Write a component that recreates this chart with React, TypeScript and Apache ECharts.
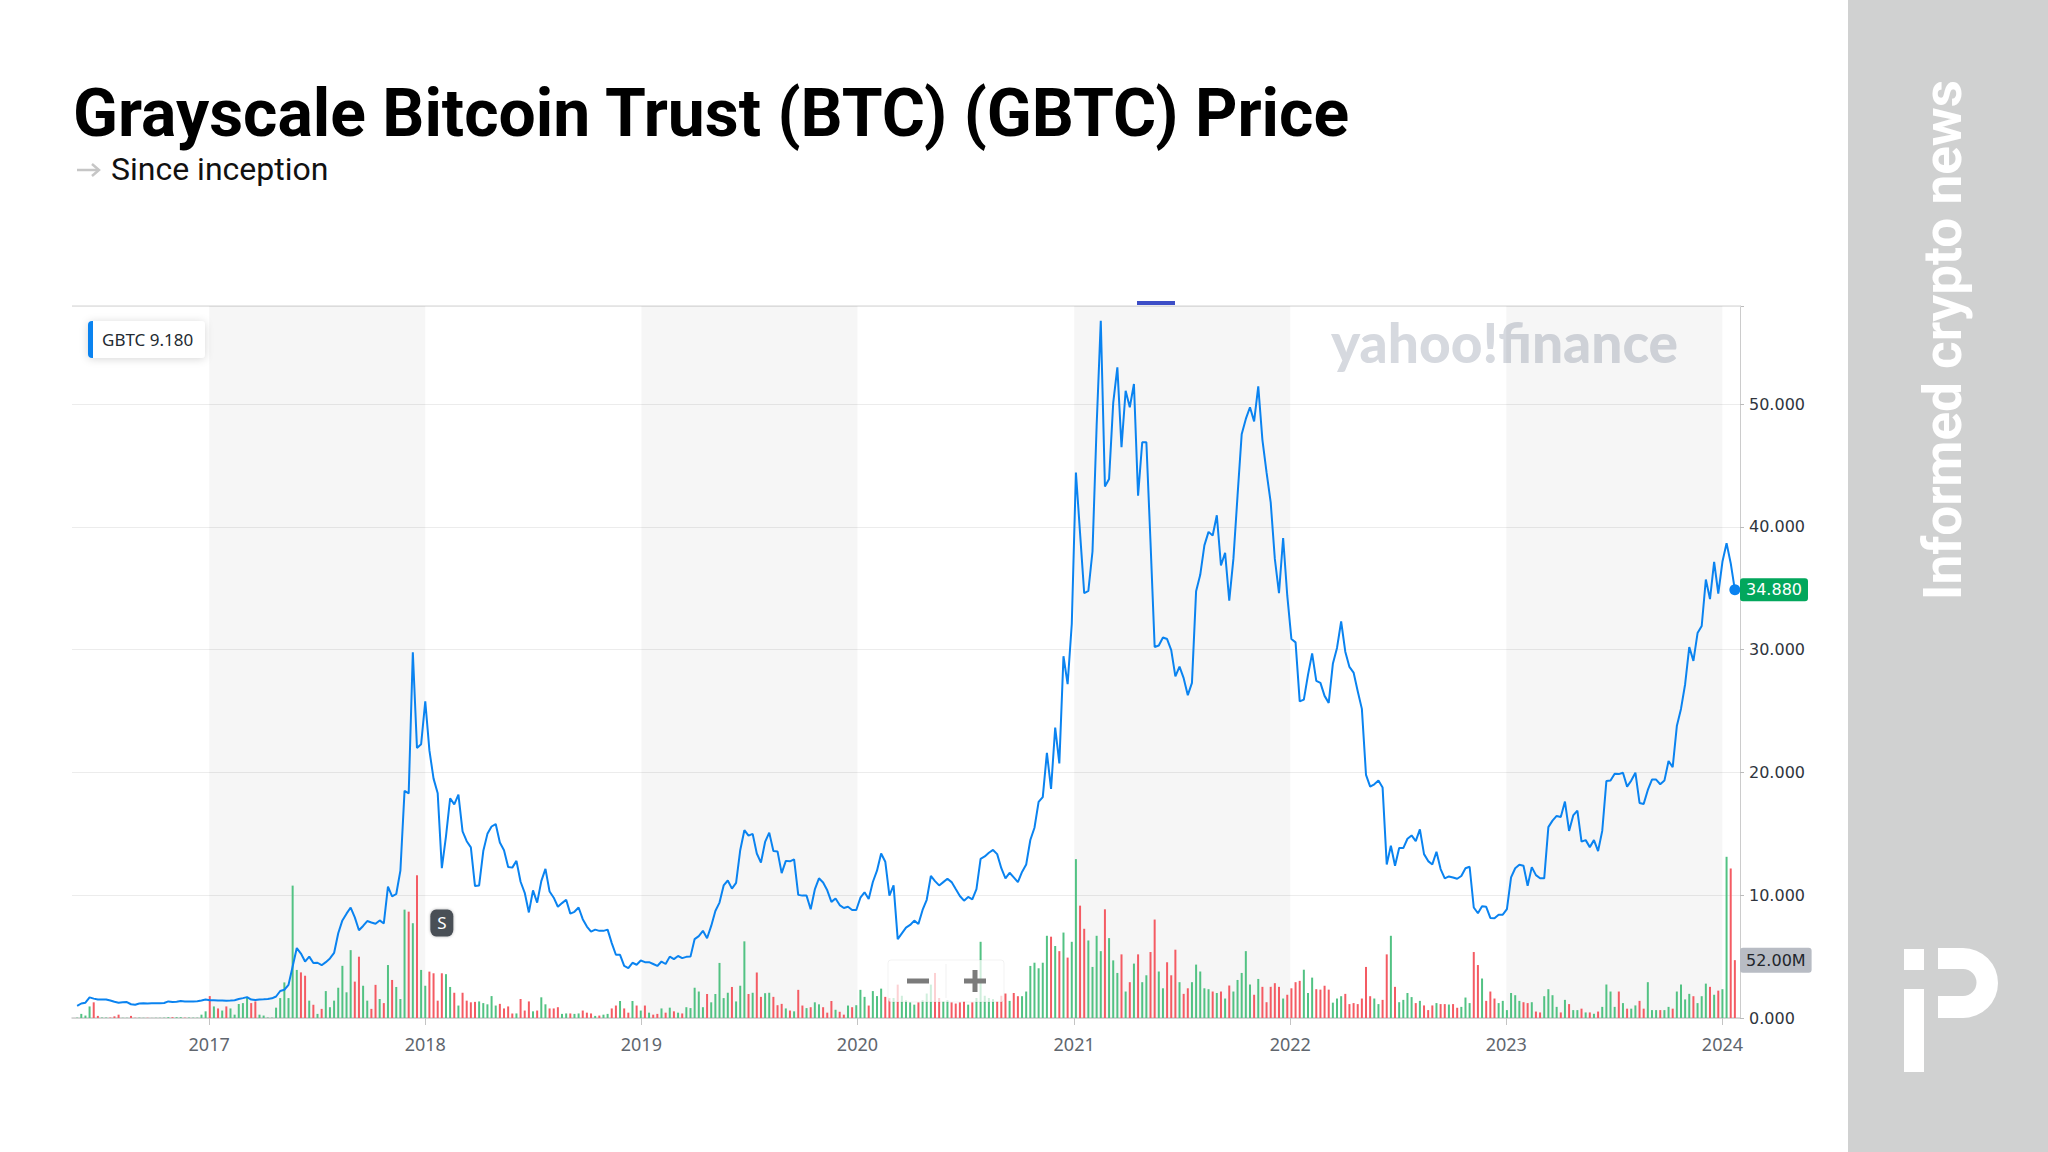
import React, { useEffect, useRef } from "react";
import * as echarts from "echarts";

// ---------- data (weekly, Mondays from 2016-05-23) ----------
const price2016 = [0.98, 1.18, 1.25, 1.68, 1.58, 1.5, 1.5, 1.5, 1.42, 1.32, 1.25, 1.28, 1.3, 1.12, 1.08, 1.18, 1.2, 1.18, 1.2, 1.2, 1.2, 1.22, 1.35, 1.3, 1.33, 1.38, 1.35, 1.35, 1.35, 1.36, 1.42, 1.5];
const price2017 = [1.45, 1.45, 1.42, 1.42, 1.4, 1.42, 1.45, 1.55, 1.62, 1.7, 1.5, 1.46, 1.5, 1.52, 1.55, 1.6, 1.75, 2.2, 2.3, 2.7, 4.2, 5.7, 5.25, 4.6, 5.0, 4.48, 4.5, 4.3, 4.55, 4.85, 5.3, 6.9, 7.95, 8.5, 9.0, 8.2, 7.15, 7.5, 7.9, 7.78, 7.68, 7.95, 7.7, 10.7, 9.9, 10.1, 12.0, 18.5, 18.3, 29.8, 22.0, 22.3];
const price2018 = [25.8, 21.8, 19.5, 18.3, 12.2, 14.8, 17.9, 17.4, 18.2, 15.2, 14.4, 13.9, 10.75, 10.8, 13.6, 15.0, 15.6, 15.8, 14.3, 13.67, 12.3, 12.25, 12.8, 11.1, 10.2, 8.6, 10.4, 9.4, 11.15, 12.15, 10.3, 9.8, 9.06, 9.36, 9.63, 8.5, 8.65, 9.0, 8.05, 7.45, 7.04, 7.2, 7.1, 7.1, 7.2, 6.1, 5.15, 5.15, 4.24, 4.07, 4.5, 4.34, 4.68];
const price2019 = [4.55, 4.55, 4.4, 4.24, 4.6, 4.4, 5.0, 4.8, 5.05, 4.88, 4.98, 5.0, 6.43, 6.67, 7.1, 6.5, 7.5, 8.72, 9.4, 10.8, 11.2, 10.54, 11.0, 13.67, 15.3, 14.85, 15.0, 13.4, 12.66, 14.34, 15.1, 13.6, 13.57, 11.8, 12.8, 12.76, 12.93, 10.03, 9.97, 9.97, 8.86, 10.47, 11.38, 11.04, 10.4, 9.46, 9.73, 9.2, 8.96, 9.06, 8.8, 8.8];
const price2020 = [9.8, 10.24, 9.7, 11.08, 12.0, 13.4, 12.73, 9.97, 10.8, 6.43, 6.9, 7.36, 7.58, 7.93, 7.66, 8.8, 9.63, 11.57, 11.15, 10.8, 11.07, 11.34, 11.07, 10.5, 9.94, 9.56, 9.86, 9.67, 10.5, 12.97, 13.16, 13.46, 13.69, 13.35, 12.2, 11.38, 11.83, 11.45, 11.07, 11.9, 12.5, 14.5, 15.5, 17.6, 18.0, 21.6, 18.66, 23.66, 20.74, 29.47, 27.2, 32.1];
const price2021 = [44.44, 39.5, 34.6, 34.8, 38.0, 48.24, 56.8, 43.3, 43.9, 50.1, 53.0, 46.5, 51.1, 49.75, 51.65, 42.55, 46.9, 46.9, 38.76, 30.22, 30.34, 31.0, 30.87, 29.96, 27.83, 28.63, 27.68, 26.3, 27.3, 34.77, 36.1, 38.5, 39.6, 39.3, 40.95, 36.86, 37.9, 34.0, 37.4, 42.55, 47.55, 48.8, 49.75, 48.6, 51.46, 47.1, 44.44, 42.0, 37.4, 34.6, 39.1, 34.4];
const price2022 = [30.87, 30.6, 25.79, 25.94, 27.95, 29.7, 27.46, 27.3, 26.24, 25.67, 28.85, 30.15, 32.3, 29.84, 28.6, 28.14, 26.62, 25.18, 19.8, 18.85, 19.04, 19.34, 18.77, 12.5, 14.03, 12.4, 13.84, 13.84, 14.6, 14.87, 14.41, 15.36, 13.35, 12.78, 12.51, 13.54, 12.13, 11.38, 11.53, 11.45, 11.34, 11.57, 12.2, 12.32, 9.0, 8.53, 9.1, 9.06, 8.15, 8.12, 8.42, 8.42];
const price2023 = [8.87, 11.45, 12.2, 12.48, 12.4, 10.77, 12.29, 11.64, 11.38, 11.38, 15.55, 16.08, 16.46, 16.38, 17.63, 15.24, 16.5, 16.9, 14.37, 14.49, 13.92, 14.49, 13.6, 15.24, 19.3, 19.34, 19.9, 19.87, 19.98, 18.85, 19.34, 19.98, 17.52, 17.44, 18.58, 19.42, 19.42, 19.04, 19.34, 20.93, 20.44, 23.78, 25.18, 27.19, 30.22, 29.09, 31.36, 31.93, 35.72, 34.13, 37.16, 34.58];
const price2024 = [37.16, 38.68, 37.05, 34.88];

// weekly volume, millions of shares
const vol2016 = [0.3, 3.7, 2.2, 10.4, 14.1, 1.9, 0.4, 0.4, 0.4, 1.5, 3.0, 0.2, 0.2, 1.9, 0.2, 0.3, 0.2, 0.2, 0.1, 0.2, 0.2, 0.3, 0.7, 0.7, 0.7, 0.7, 0.3, 0.4, 0.3, 0.3, 3.0, 6.0];
const vol2017 = [19.7, 10.4, 8.6, 6.7, 10.4, 8.6, 3.0, 12.6, 13.4, 18.6, 13.4, 14.9, 3.0, 2.2, 0.4, 0.3, 9.3, 17.9, 32.0, 17.9, 119, 43.2, 41.0, 38.0, 15.6, 11.9, 3.7, 8.2, 24.2, 9.7, 15.6, 27.2, 46.9, 23.1, 61.0, 32.7, 55.1, 29.0, 15.6, 8.2, 29.8, 17.1, 13.4, 47.6, 34.2, 27.9, 17.1, 97.4, 95.6, 85.2, 128.3, 43.2];
const vol2018 = [29.0, 41.7, 40.2, 15.6, 40.2, 39.4, 27.9, 22.7, 11.2, 22.7, 15.6, 14.1, 14.5, 14.9, 13.4, 12.3, 19.7, 11.2, 12.7, 8.6, 10.4, 4.1, 4.1, 17.1, 6.7, 14.9, 6.0, 6.7, 18.6, 12.3, 8.6, 8.6, 9.7, 3.7, 4.1, 4.1, 3.7, 4.1, 6.7, 4.8, 4.1, 1.9, 2.2, 3.0, 3.7, 8.6, 11.2, 15.3, 8.6, 4.8, 15.3, 11.2, 6.7];
const vol2019 = [11.2, 4.8, 3.0, 3.7, 8.6, 4.8, 9.3, 6.0, 4.8, 4.1, 9.7, 8.9, 27.2, 23.8, 9.7, 21.6, 14.1, 21.6, 49.5, 17.9, 22.7, 27.9, 14.9, 29.0, 68.9, 21.6, 22.7, 40.9, 19.0, 22.3, 22.7, 19.0, 11.5, 12.7, 8.6, 6.7, 6.0, 25.3, 11.2, 8.9, 9.7, 14.1, 12.3, 9.7, 4.8, 15.3, 7.4, 5.6, 3.0, 11.2, 9.7, 11.5];
const vol2020 = [25.3, 19.0, 11.2, 24.2, 19.7, 26.4, 19.0, 17.9, 18, 30, 20, 16, 14, 12, 14, 16, 22, 30, 40.5, 18, 15, 16, 14, 13, 14, 15, 12, 14, 18, 68.5, 20, 18, 17, 15, 20, 22, 15.4, 22.5, 19.6, 19.6, 23.8, 46.8, 49.7, 44.7, 49.7, 73.9, 73.1, 64.7, 60.1, 76.8, 54.3, 68.5];
const vol2021 = [142.8, 101, 80.2, 69.7, 45.9, 73.9, 60.1, 97.7, 71.8, 51.8, 40.5, 57.2, 23.8, 32.2, 48.9, 57.2, 32.2, 38.4, 59.3, 88.5, 41.8, 26.7, 50.1, 38.4, 61.4, 32.2, 21.7, 26.7, 32.2, 48.0, 41.8, 26.7, 25.9, 23.8, 22.5, 23.8, 17.5, 29.2, 23.8, 34.2, 40.5, 60.1, 30.1, 20.9, 35.1, 28.0, 14.2, 28.0, 31.3, 28.0, 17.5, 20.9];
const vol2022 = [26.7, 32.2, 33.4, 43.4, 22.5, 36.3, 25.9, 25.5, 29.0, 25.5, 13.8, 17.5, 19.6, 21.7, 12.5, 13.4, 12.5, 17.5, 45.9, 19.6, 17.5, 12.5, 16.3, 57.2, 73.9, 28.0, 14.2, 16.3, 22.5, 18.8, 13.4, 15.4, 11.3, 7.1, 11.3, 13.4, 12.5, 12.5, 12.1, 12.5, 9.2, 10.0, 18.4, 13.4, 59.3, 47.6, 35.5, 15.4, 23.8, 17.5, 13.4, 15.4];
const vol2023 = [7.1, 22.5, 20.5, 15.4, 14.2, 13.4, 14.2, 5.8, 5.0, 19.6, 25.9, 20.5, 10.0, 5.0, 16.3, 12.5, 7.1, 7.1, 8.4, 5.0, 5.0, 3.8, 5.8, 10.0, 30.1, 23.8, 10.0, 23.8, 13.4, 8.4, 8.4, 11.3, 15.4, 8.4, 32.2, 7.1, 7.1, 7.1, 7.1, 10.0, 8.4, 23.8, 30.1, 16.7, 21.7, 19.6, 13.4, 19.6, 30.9, 28.0, 20.9, 24.6];
const vol2024 = [25.9, 144.9, 134.4, 52.0];

const shadedYears = [2017, 2019, 2021, 2023];
const legendText = "GBTC 9.180";
const splitMarker = { date: [2018, 0, 29], value: 7.74, label: "S" };

// ---------- derived ----------
const prices = [...price2016, ...price2017, ...price2018, ...price2019, ...price2020, ...price2021, ...price2022, ...price2023, ...price2024];
const volumes = [...vol2016, ...vol2017, ...vol2018, ...vol2019, ...vol2020, ...vol2021, ...vol2022, ...vol2023, ...vol2024];
const dates = prices.map((_, i) => new Date(2016, 4, 23 + 7 * i).getTime());

const BLUE = "#0a83f0";
const UP = "#52c283";
const DOWN = "#f45b63";

const priceData = prices.map((v, i) => [dates[i], v]);
const volData = volumes.map((v, i) => ({
  value: [dates[i], v],
  itemStyle: { color: i === 0 || prices[i] >= prices[i - 1] ? UP : DOWN },
}));
const lastIdx = prices.length - 1;

const X_MIN = new Date(2016, 4, 16).getTime();
const X_MAX = new Date(2024, 0, 29).getTime();
const YEAR_MS = 365 * 24 * 3600 * 1000;

echarts.graphic.registerShape(
  "ipBowl",
  echarts.graphic.extendPath("M34,0 H59 A35,35 0 0 1 59,70 H34 V48 H59 A13.5,13.5 0 0 0 59,21 H34 Z", {})
);

function txt(x: number, y: number, text: string, o: any) {
  return {
    type: "text",
    x,
    y,
    rotation: o.rotation || 0,
    z: o.z || 5,
    silent: true,
    style: {
      text,
      fill: o.fill,
      fontSize: o.fontSize,
      fontFamily: o.fontFamily,
      fontWeight: o.fontWeight || "normal",
      textAlign: o.align || "left",
      align: o.align || "left",
      textVerticalAlign: "middle",
      verticalAlign: "middle",
    },
  };
}

const option: any = {
  animation: false,
  backgroundColor: "#ffffff",
  textStyle: { fontFamily: "Noto Sans" },
  grid: { left: 72, right: 308, top: 306, bottom: 134, containLabel: false },
  xAxis: {
    type: "time",
    min: X_MIN,
    max: X_MAX,
    minInterval: YEAR_MS,
    maxInterval: YEAR_MS * 1.01,
    splitNumber: 8,
    axisLine: { show: true, lineStyle: { color: "#cdcdcd", width: 1.5 } },
    axisTick: { show: true, length: 7, lineStyle: { color: "#c4c4c4" } },
    axisLabel: {
      formatter: "{yyyy}",
      color: "#60666e",
      fontFamily: "Noto Sans",
      fontSize: 18,
      margin: 17,
    },
    splitLine: { show: false },
  },
  yAxis: [
    {
      type: "value",
      position: "right",
      min: 0,
      max: 58,
      interval: 10,
      axisLine: { show: true, lineStyle: { color: "#cccccc" } },
      axisTick: { show: true, length: 4, lineStyle: { color: "#bbbbbb" } },
      axisLabel: {
        formatter: (v: number) => (v % 10 === 0 ? v.toFixed(3) : ""),
        color: "#2f353d",
        fontFamily: "DejaVu Sans",
        fontSize: 16,
        margin: 9,
      },
      splitLine: { show: true, lineStyle: { color: "#ececec" } },
    },
    { type: "value", min: 0, max: 640, show: false },
  ],
  series: [
    {
      type: "line",
      name: "bands",
      data: [[X_MIN, 0]],
      showSymbol: false,
      lineStyle: { opacity: 0 },
      z: 0,
      silent: true,
      markArea: {
        silent: true,
        itemStyle: { color: "rgba(0,0,0,0.036)" },
        data: shadedYears.map((y) => [
          { xAxis: new Date(y, 0, 1).getTime() },
          { xAxis: new Date(y + 1, 0, 1).getTime() },
        ]),
      },
    },
    {
      type: "bar",
      name: "Volume",
      yAxisIndex: 1,
      data: volData,
      barWidth: 2,
      z: 2,
      silent: true,
      markLine: {
        silent: true,
        symbol: "none",
        lineStyle: { width: 0, color: "rgba(0,0,0,0)" },
        label: {
          position: "end",
          distance: 0,
          formatter: volumes[lastIdx].toFixed(2) + "M",
          backgroundColor: "#b8bcc4",
          color: "#22262c",
          padding: [5, 6, 4, 6],
          borderRadius: 3,
          fontFamily: "DejaVu Sans",
          fontSize: 16,
        },
        data: [{ yAxis: volumes[lastIdx] }],
      },
    },
    {
      type: "line",
      name: "GBTC",
      data: priceData,
      showSymbol: false,
      symbol: "none",
      z: 3,
      silent: true,
      lineStyle: { color: BLUE, width: 2 },
      markLine: {
        silent: true,
        symbol: "none",
        lineStyle: { width: 0, color: "rgba(0,0,0,0)" },
        label: {
          position: "end",
          distance: 0,
          formatter: prices[lastIdx].toFixed(3),
          backgroundColor: "#02a75c",
          color: "#ffffff",
          padding: [4, 6, 3, 6],
          borderRadius: 3,
          fontFamily: "DejaVu Sans",
          fontSize: 16,
        },
        data: [{ yAxis: prices[lastIdx] }],
      },
      markPoint: {
        silent: true,
        data: [
          {
            coord: [dates[lastIdx], prices[lastIdx]],
            symbol: "circle",
            symbolSize: 11,
            itemStyle: { color: BLUE },
            label: { show: false },
          },
          {
            coord: [new Date(splitMarker.date[0], splitMarker.date[1], splitMarker.date[2]).getTime(), splitMarker.value],
            symbol: "roundRect",
            symbolSize: [23, 27],
            itemStyle: { color: "#4a4f57", shadowBlur: 3, shadowColor: "rgba(0,0,0,0.3)" },
            label: {
              show: true,
              position: "inside",
              formatter: splitMarker.label,
              color: "#ffffff",
              fontFamily: "Noto Sans",
              fontSize: 17,
            },
          },
        ],
      },
    },
  ],
  graphic: [
    // right brand panel
    { type: "rect", z: 1, silent: true, shape: { x: 1848, y: 0, width: 200, height: 1152 }, style: { fill: "#d0d1d1" } },
    txt(1943, 340, "Informed crypto news", {
      fill: "#ffffff", fontSize: 53, fontFamily: "Roboto", fontWeight: "bold", align: "center", rotation: Math.PI / 2,
    }),
    { type: "rect", z: 5, silent: true, shape: { x: 1904, y: 949, width: 20, height: 21 }, style: { fill: "#ffffff" } },
    { type: "rect", z: 5, silent: true, shape: { x: 1904, y: 989, width: 20, height: 83 }, style: { fill: "#ffffff" } },
    { type: "ipBowl", z: 5, silent: true, x: 1904, y: 948, scaleX: 1, scaleY: 1, style: { fill: "#ffffff" } },
    // title
    txt(73, 113, "Grayscale Bitcoin Trust (BTC) (GBTC) Price", { fill: "#000000", fontSize: 66, fontFamily: "Roboto", fontWeight: "bold" }),
    txt(111, 169, "Since inception", { fill: "#111111", fontSize: 32, fontFamily: "Roboto" }),
    { type: "line", z: 5, silent: true, shape: { x1: 77, y1: 170, x2: 99, y2: 170 }, style: { stroke: "#c6c6c6", lineWidth: 2.5 } },
    { type: "polyline", z: 5, silent: true, shape: { points: [[92, 164], [99, 170], [92, 176]] }, style: { stroke: "#c6c6c6", lineWidth: 2.5, fill: "none" } },
    // plot frame top line + marker
    { type: "line", z: 1, silent: true, shape: { x1: 72, y1: 306, x2: 1741, y2: 306 }, style: { stroke: "#e2e2e2", lineWidth: 1.5 } },
    { type: "rect", z: 6, silent: true, shape: { x: 1137, y: 301, width: 38, height: 4 }, style: { fill: "#3d4ec7" } },
    // watermark
    txt(1331, 342, "yahoo!finance", { fill: "#d6d9df", fontSize: 55, fontFamily: "Lato", fontWeight: 900, z: 1 }),
    // legend chip
    {
      type: "group", x: 88, y: 321, z: 20, silent: true,
      children: [
        { type: "rect", z: 20, shape: { x: 0, y: 0, width: 117, height: 37, r: 4 }, style: { fill: "#ffffff", shadowBlur: 8, shadowColor: "rgba(0,0,0,0.16)", shadowOffsetY: 1 } },
        { type: "rect", z: 21, shape: { x: 0, y: 0, width: 5, height: 37, r: [4, 0, 0, 4] }, style: { fill: BLUE } },
        txt(14, 18.5, legendText, { fill: "#232a31", fontSize: 17, fontFamily: "Noto Sans", z: 21 }),
      ],
    },
    // zoom control
    {
      type: "group", x: 888, y: 960, z: 20, silent: true,
      children: [
        { type: "rect", z: 20, shape: { x: 0, y: 0, width: 116, height: 42, r: 3 }, style: { fill: "rgba(255,255,255,0.72)", stroke: "rgba(0,0,0,0.05)" } },
        { type: "line", z: 21, shape: { x1: 58, y1: 4, x2: 58, y2: 38 }, style: { stroke: "rgba(0,0,0,0.06)" } },
        { type: "rect", z: 21, shape: { x: 19, y: 18.5, width: 22, height: 5 }, style: { fill: "#7b7b7b" } },
        { type: "rect", z: 21, shape: { x: 76, y: 18.5, width: 22, height: 5 }, style: { fill: "#7b7b7b" } },
        { type: "rect", z: 21, shape: { x: 84.5, y: 10, width: 5, height: 22 }, style: { fill: "#7b7b7b" } },
      ],
    },
  ],
};

export default function App() {
  const ref = useRef<HTMLDivElement>(null);
  useEffect(() => {
    document.body.style.margin = "0";
    const chart = echarts.init(ref.current as HTMLDivElement, null, { renderer: "svg", width: 2048, height: 1152 });
    chart.setOption(option);
    return () => chart.dispose();
  }, []);
  return (
    <div
      ref={ref}
      style={{ position: "absolute", left: 0, top: 0, width: 2048, height: 1152, background: "#ffffff" }}
    />
  );
}
